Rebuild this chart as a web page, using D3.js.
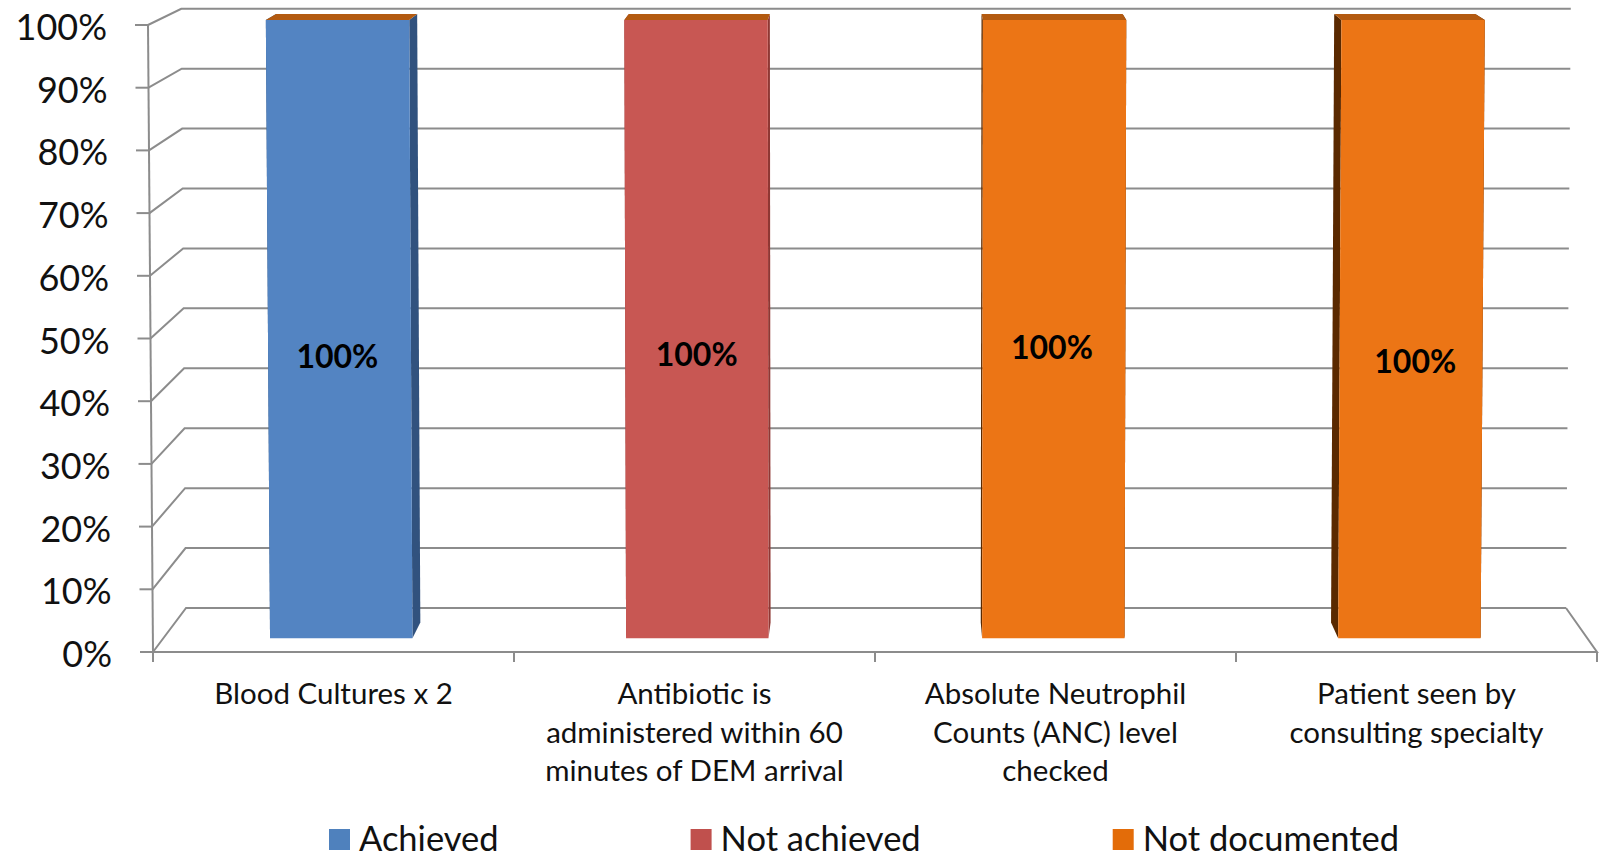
<!DOCTYPE html>
<html>
<head>
<meta charset="utf-8">
<script src="https://cdn.jsdelivr.net/npm/d3@7"></script>
<style>
  html, body { margin: 0; padding: 0; background: #ffffff; }
  svg { display: block; font-family: Lato, "Open Sans", sans-serif; }
</style>
</head>
<body>
<svg id="chart" width="1601" height="858"></svg>
<script>
// ---------------- data ----------------
const categories = [
  "Blood Cultures x 2",
  "Antibiotic is\nadministered within 60\nminutes of DEM arrival",
  "Absolute Neutrophil\nCounts (ANC) level\nchecked",
  "Patient seen by\nconsulting specialty"
];
const seriesNames = ["Achieved", "Not achieved", "Not documented"];
const achieved      = [1.00, 0.00, 0.00, 0.00];
const notAchieved   = [0.00, 1.00, 0.00, 0.00];
const notDocumented = [0.00, 0.00, 1.00, 1.00];
const yTickValues = [0, 0.1, 0.2, 0.3, 0.4, 0.5, 0.6, 0.7, 0.8, 0.9, 1.0];

// ---------------- styles ----------------
const legendColors = ["#4f81bd", "#c0504d", "#e36c09"];
const frontColors  = ["#5384c2", "#c85753", "#ec7515"];
const sideColors   = ["#31527e", "#8f3733", "#5a2900"];
const topColor     = "#b35a10";
const gridColor    = "#8c8c8c";
const labelNudgeX  = [-2, 0, -2, 4];
const labelNudgeY  = [27, 25, 18, 32];

const svg = d3.select("#chart");

// ---------------- 3D projection (perspective) ----------------
const VP = { x: 898, y: -341 };      // depth vanishing point
const depthK = 0.0464;               // perspective strength
const yFront = d3.scaleLinear().domain([0, 1]).range([652, 25]);
const xFrontBottom = d3.scaleLinear().domain([0, 1]).range([153, 1597]);
const xFrontTop    = d3.scaleLinear().domain([0, 1]).range([148, 1602]);
const xBand = d3.scaleBand().domain(d3.range(categories.length)).range([0, 1])
  .paddingInner(0.6).paddingOuter(0.3);
const zBarFront = 0.30, zBarBack = 0.66, zWall = 1.0;

function proj(X, V, z) {
  const yf = yFront(V);
  const xf = xFrontBottom(X) * (1 - V) + xFrontTop(X) * V;
  const r = 1 / (1 + depthK * z);
  return [VP.x + (xf - VP.x) * r, VP.y + (yf - VP.y) * r];
}
const line = d3.line();
const poly = pts => "M" + pts.map(p => p.join(",")).join("L") + "Z";

// ---------------- walls & gridlines ----------------
const gGrid = svg.append("g");
yTickValues.forEach(t => {
  gGrid.append("path")
    .attr("d", line([proj(0, t, 0), proj(0, t, zWall), proj(1, t, zWall)]))
    .attr("fill", "none").attr("stroke", gridColor).attr("stroke-width", 2);
});
// floor
gGrid.append("path")
  .attr("d", line([proj(0, 0, 0), proj(1, 0, 0), proj(1, 0, zWall)]))
  .attr("fill", "none").attr("stroke", gridColor).attr("stroke-width", 2);
// vertical value axis
gGrid.append("path")
  .attr("d", line([proj(0, 0, 0), proj(0, 1, 0)]))
  .attr("fill", "none").attr("stroke", gridColor).attr("stroke-width", 2);
// value ticks + labels
const fmt = d3.format(".0%");
yTickValues.forEach(t => {
  const p = proj(0, t, 0);
  gGrid.append("line").attr("x1", p[0] - 13).attr("x2", p[0]).attr("y1", p[1]).attr("y2", p[1])
    .attr("stroke", gridColor).attr("stroke-width", 2);
  svg.append("text").attr("x", p[0] - 41).attr("y", p[1] + 15)
    .attr("text-anchor", "end").attr("font-size", 36).attr("fill", "#111")
    .text(fmt(t));
});
// category ticks
d3.range(categories.length + 1).forEach(i => {
  const p = proj(i / categories.length, 0, 0);
  gGrid.append("line").attr("x1", p[0]).attr("x2", p[0]).attr("y1", p[1]).attr("y2", p[1] + 10)
    .attr("stroke", gridColor).attr("stroke-width", 2);
});
// category labels
categories.forEach((c, i) => {
  const cx = proj((i + 0.5) / categories.length, 0, 0)[0];
  const t = svg.append("text").attr("text-anchor", "middle").attr("font-size", 29.5).attr("fill", "#111");
  c.split("\n").forEach((ln, j) => {
    t.append("tspan").attr("x", cx).attr("y", 704 + j * 38.5).text(ln);
  });
});

// ---------------- bars ----------------
const seriesData = [achieved, notAchieved, notDocumented];
const table = categories.map((c, i) => ({ i, a: achieved[i], n: notAchieved[i], d: notDocumented[i] }));
const stacked = d3.stack().keys(["a", "n", "d"])(table);
const gBars = svg.append("g");
categories.forEach((c, i) => {
  const x0 = xBand(i), x1 = xBand(i) + xBand.bandwidth();
  stacked.forEach((s, si) => {
    const [v0, v1] = s[i];
    if (v1 - v0 <= 0) return;
    gBars.append("path").attr("fill", sideColors[si])
      .attr("d", poly([proj(x0, v0, zBarFront), proj(x0, v1, zBarFront), proj(x0, v1, zBarBack), proj(x0, v0, zBarBack)]));
    gBars.append("path").attr("fill", sideColors[si])
      .attr("d", poly([proj(x1, v0, zBarFront), proj(x1, v1, zBarFront), proj(x1, v1, zBarBack), proj(x1, v0, zBarBack)]));
  });
  const vt = stacked[stacked.length - 1][i][1];
  gBars.append("path").attr("fill", topColor)
    .attr("d", poly([proj(x0, vt, zBarFront), proj(x1, vt, zBarFront), proj(x1, vt, zBarBack), proj(x0, vt, zBarBack)]));
  stacked.forEach((s, si) => {
    const [v0, v1] = s[i];
    if (v1 - v0 <= 0) return;
    gBars.append("path").attr("fill", frontColors[si])
      .attr("d", poly([proj(x0, v0, zBarFront), proj(x1, v0, zBarFront), proj(x1, v1, zBarFront), proj(x0, v1, zBarFront)]));
  });
  stacked.forEach((s, si) => {
    const [v0, v1] = s[i];
    if (v1 - v0 <= 0) return;
    const p = proj(x0 + xBand.bandwidth() / 2, (v0 + v1) / 2, zBarFront);
    svg.append("text").attr("x", p[0] + labelNudgeX[i]).attr("y", p[1] + labelNudgeY[i] + 11.5)
      .attr("text-anchor", "middle").attr("font-size", 32).attr("font-weight", "bold").attr("fill", "#000")
      .text(fmt(seriesData[si][i]));
  });
});

// ---------------- legend ----------------
const gLeg = svg.append("g");
let lx = 329;
seriesNames.forEach((name, k) => {
  gLeg.append("rect").attr("x", lx).attr("y", 829).attr("width", 21).attr("height", 21).attr("fill", legendColors[k]);
  const t = gLeg.append("text").attr("x", lx + 30).attr("y", 851).attr("font-size", 34.5).attr("fill", "#111").text(name);
  lx = lx + 30 + t.node().getComputedTextLength() + 192;
});
</script>
</body>
</html>
